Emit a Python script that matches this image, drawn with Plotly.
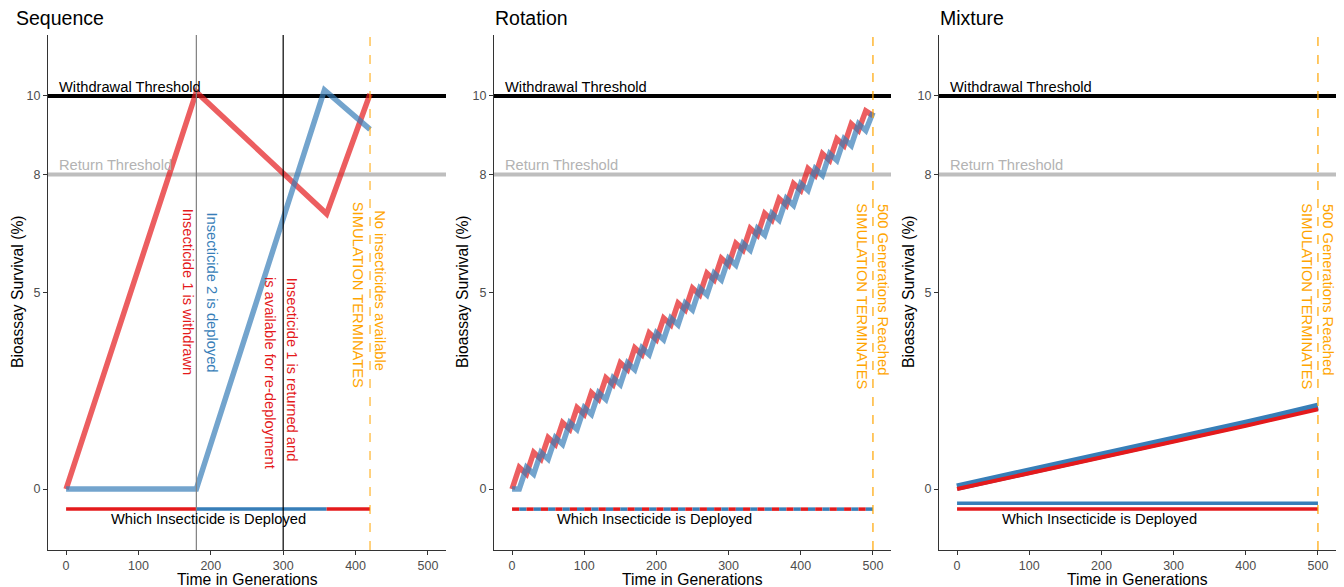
import plotly.graph_objects as go

RED = "#E41A1C"
BLUE = "#377EB8"
ORANGE = "#FFA500"
RED_A = "rgba(228,26,28,0.7)"
BLUE_A = "rgba(55,126,184,0.7)"

# ---------------- data ----------------
# Sequence
seq_red_gen = [0, 180, 360, 420]
seq_red_val = [0, 10.1, 7.0, 10.05]
seq_blue_gen = [0, 180, 357, 420]
seq_blue_val = [0, 0, 10.15, 9.15]
seq_deploy_start = [0, 180, 360]
seq_deploy_end = [180, 360, 420]
seq_deploy_ins = [1, 2, 1]

# Rotation
rot_gen = [0, 10, 20, 30, 40, 50, 60, 70, 80, 90, 100, 110, 120, 130, 140, 150, 160,
           170, 180, 190, 200, 210, 220, 230, 240, 250, 260, 270, 280, 290, 300, 310,
           320, 330, 340, 350, 360, 370, 380, 390, 400, 410, 420, 430, 440, 450, 460,
           470, 480, 490, 500]
rot_red_val = [0, 0.55, 0.38, 0.93, 0.76, 1.31, 1.14, 1.69, 1.52, 2.07, 1.90, 2.45, 2.28,
               2.83, 2.66, 3.21, 3.04, 3.59, 3.42, 3.97, 3.80, 4.35, 4.18, 4.73, 4.56,
               5.11, 4.94, 5.49, 5.32, 5.87, 5.70, 6.25, 6.08, 6.63, 6.46, 7.01, 6.84,
               7.39, 7.22, 7.77, 7.60, 8.15, 7.98, 8.53, 8.36, 8.91, 8.74, 9.29, 9.12,
               9.62, 9.50]
rot_blue_val = [0, 0, 0.55, 0.38, 0.93, 0.76, 1.31, 1.14, 1.69, 1.52, 2.07, 1.90, 2.45,
                2.28, 2.83, 2.66, 3.21, 3.04, 3.59, 3.42, 3.97, 3.80, 4.35, 4.18, 4.73,
                4.56, 5.11, 4.94, 5.49, 5.32, 5.87, 5.70, 6.25, 6.08, 6.63, 6.46, 7.01,
                6.84, 7.39, 7.22, 7.77, 7.60, 8.15, 7.98, 8.53, 8.36, 8.91, 8.74, 9.29,
                9.12, 9.58]
rot_deploy_ins = [1, 2, 1, 2, 1, 2, 1, 2, 1, 2, 1, 2, 1, 2, 1, 2, 1, 2, 1, 2, 1, 2, 1, 2, 1,
                  2, 1, 2, 1, 2, 1, 2, 1, 2, 1, 2, 1, 2, 1, 2, 1, 2, 1, 2, 1, 2, 1, 2, 1, 2]

# Mixture
mix_gen = [0, 100, 200, 300, 400, 500]
mix_red_val = [0, 0.40, 0.80, 1.20, 1.61, 2.03]
mix_blue_val = [0.05, 0.45, 0.85, 1.26, 1.67, 2.10]

deploy_level_1 = -0.51
deploy_level_2_mix = -0.36

y_ticks = [0, 5, 8, 10]
x_ticks = [0, 100, 200, 300, 400, 500]

panel_titles = ["Sequence", "Rotation", "Mixture"]

# ---------------- figure ----------------
W, H = 1344, 587
fig = go.Figure()

def px_x(p):
    return p / W

def px_y(p):
    return 1 - p / H

x_domains = [(48, 446), (494, 891), (939, 1336)]
y_dom = [px_y(550), px_y(35)]
suffix = ["", "2", "3"]

def add_line(i, x, y, color, width):
    fig.add_trace(go.Scatter(x=x, y=y, mode="lines",
                             line=dict(color=color, width=width),
                             xaxis="x" + suffix[i], yaxis="y" + suffix[i],
                             showlegend=False, hoverinfo="skip"))

# Sequence panel
add_line(0, seq_red_gen, seq_red_val, RED_A, 5.5)
add_line(0, seq_blue_gen, seq_blue_val, BLUE_A, 5.5)
for s, e, ins in zip(seq_deploy_start, seq_deploy_end, seq_deploy_ins):
    add_line(0, [s, e], [deploy_level_1, deploy_level_1], RED if ins == 1 else BLUE, 3.5)

# Rotation panel
add_line(1, rot_gen, rot_red_val, RED_A, 5.5)
add_line(1, rot_gen, rot_blue_val, BLUE_A, 5.5)
for k, ins in enumerate(rot_deploy_ins):
    add_line(1, [rot_gen[k], rot_gen[k + 1]], [deploy_level_1, deploy_level_1],
             RED if ins == 1 else BLUE, 3.5)

# Mixture panel
add_line(2, mix_gen, mix_blue_val, BLUE, 7.5)
add_line(2, mix_gen, mix_red_val, RED, 4)
add_line(2, [mix_gen[0], mix_gen[-1]], [deploy_level_2_mix, deploy_level_2_mix], BLUE, 3.5)
add_line(2, [mix_gen[0], mix_gen[-1]], [deploy_level_1, deploy_level_1], RED, 3.5)

shapes = []
annotations = []
axis_font = dict(family="Liberation Sans, Arial, sans-serif", size=12.5, color="#4D4D4D")
txt_font = "Liberation Sans, Arial, sans-serif"

for i in range(3):
    xa = "x" + suffix[i]
    ya = "y" + suffix[i]
    x0, x1 = x_domains[i]
    fig.update_layout(**{
        "xaxis" + suffix[i]: dict(domain=[px_x(x0), px_x(x1)], range=[-25, 525],
                                  anchor=ya, showline=True, linecolor="#333333", linewidth=1.3,
                                  ticks="outside", ticklen=4, tickcolor="#333333",
                                  tickvals=x_ticks, showgrid=False, zeroline=False,
                                  tickfont=axis_font),
        "yaxis" + suffix[i]: dict(domain=y_dom, range=[-1.55, 11.55], anchor=xa,
                                  showline=True, linecolor="#333333", linewidth=1.3,
                                  ticks="outside", ticklen=4, tickcolor="#333333",
                                  tickvals=y_ticks, showgrid=False, zeroline=False,
                                  tickfont=axis_font),
    })
    # thresholds
    shapes.append(dict(type="line", xref=xa + " domain", yref=ya, x0=0, x1=1, y0=10, y1=10,
                       line=dict(color="black", width=4), layer="below"))
    shapes.append(dict(type="line", xref=xa + " domain", yref=ya, x0=0, x1=1, y0=8, y1=8,
                       line=dict(color="#BEBEBE", width=4), layer="below"))
    annotations.append(dict(x=-12, y=10.23, xref=xa, yref=ya, text="Withdrawal Threshold",
                            showarrow=False, xanchor="left", yanchor="middle",
                            font=dict(family=txt_font, size=14.7, color="black")))
    annotations.append(dict(x=-12, y=8.24, xref=xa, yref=ya, text="Return Threshold",
                            showarrow=False, xanchor="left", yanchor="middle",
                            font=dict(family=txt_font, size=14.7, color="#B3B3B3")))
    annotations.append(dict(x=197, y=-0.76, xref=xa, yref=ya,
                            text="Which Insecticide is Deployed",
                            showarrow=False, xanchor="center", yanchor="middle",
                            font=dict(family=txt_font, size=14.7, color="black")))
    # titles
    tx = [14, 493, 938][i]
    annotations.append(dict(x=px_x(tx), y=px_y(18), xref="paper", yref="paper",
                            text=panel_titles[i], showarrow=False, xanchor="left",
                            yanchor="middle",
                            font=dict(family=txt_font, size=19.5, color="black")))
    ytx = [18, 463, 909][i]
    annotations.append(dict(x=px_x(ytx), y=px_y(292), xref="paper", yref="paper",
                            text="Bioassay Survival (%)", showarrow=False, textangle=-90,
                            xanchor="center", yanchor="middle",
                            font=dict(family=txt_font, size=15.7, color="black")))
    annotations.append(dict(x=px_x((x0 + x1) / 2), y=px_y(579), xref="paper", yref="paper",
                            text="Time in Generations", showarrow=False,
                            xanchor="center", yanchor="middle",
                            font=dict(family=txt_font, size=15.7, color="black")))

# Sequence vertical lines
shapes.append(dict(type="line", xref="x", yref="y domain", x0=180, x1=180, y0=0, y1=1,
                   line=dict(color="#7F7F7F", width=1.2)))
shapes.append(dict(type="line", xref="x", yref="y domain", x0=300, x1=300, y0=0, y1=1,
                   line=dict(color="black", width=1.2)))
shapes.append(dict(type="line", xref="x", yref="y domain", x0=420, x1=420, y0=0, y1=1,
                   line=dict(color=ORANGE, width=1, dash="dash")))
for s in ["2", "3"]:
    shapes.append(dict(type="line", xref="x" + s, yref="y" + s + " domain", x0=500, x1=500,
                       y0=0, y1=1, line=dict(color=ORANGE, width=1.2, dash="dash")))

def rot_text(xa, ya, x, y, text, color):
    annotations.append(dict(x=x, y=y, xref=xa, yref=ya, text=text, showarrow=False,
                            textangle=90, xanchor="center", yanchor="middle", align="center",
                            font=dict(family=txt_font, size=14.7, color=color)))

rot_text("x", "y", 168.5, 5.02, "Insecticide 1 is withdrawn", RED)
rot_text("x", "y", 203, 5.0, "Insecticide 2 is deployed", BLUE)
rot_text("x", "y", 311.5, 3.05, "Insecticide 1 is returned and", RED)
rot_text("x", "y", 282, 2.95, "is available for re-deployment", RED)
rot_text("x", "y", 433.5, 5.04, "No insecticides available", ORANGE)
rot_text("x", "y", 403.5, 4.94, "SIMULATION TERMINATES", ORANGE)
for s in ["2", "3"]:
    rot_text("x" + s, "y" + s, 514, 5.09, "500 Generations Reached", ORANGE)
    rot_text("x" + s, "y" + s, 484.5, 4.91, "SIMULATION TERMINATES", ORANGE)

fig.update_layout(width=W, height=H, margin=dict(l=0, r=0, t=0, b=0),
                  paper_bgcolor="white", plot_bgcolor="white",
                  shapes=shapes, annotations=annotations, showlegend=False)

fig.write_html("out.html")
